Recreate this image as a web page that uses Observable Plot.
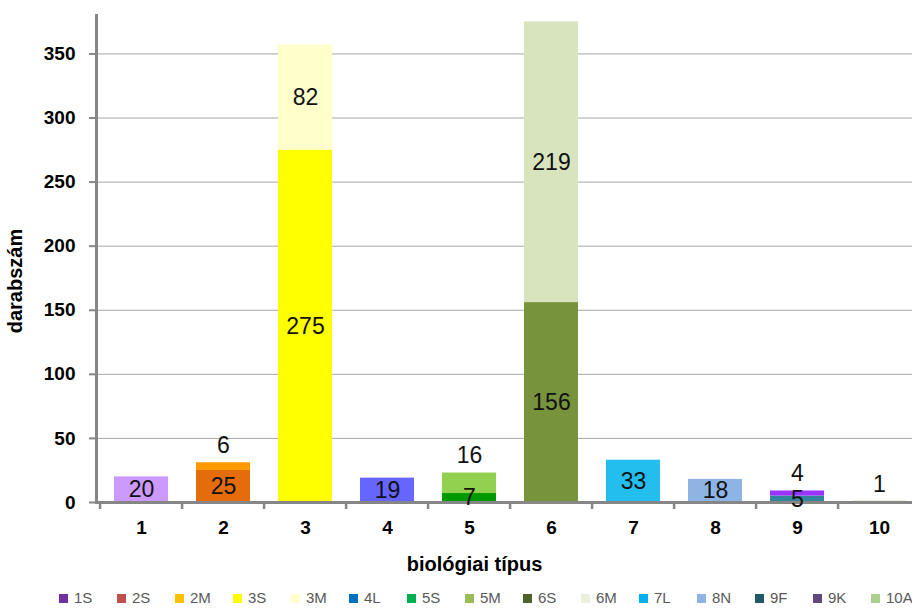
<!DOCTYPE html>
<html><head><meta charset="utf-8">
<script src="https://cdn.jsdelivr.net/npm/d3@7"></script>
<script src="https://cdn.jsdelivr.net/npm/@observablehq/plot@0.6"></script>
<style>
html,body{margin:0;padding:0;background:#fff;overflow:hidden;width:912px;height:608px;}
#chart{position:absolute;left:0;top:0;width:924px;}
#chart svg{max-width:none !important;}
#legend{position:absolute;left:59px;top:591px;display:flex;font-family:"Liberation Sans Narrow","Liberation Sans",sans-serif;font-size:15px;color:#595959;white-space:nowrap;line-height:14px;}
.item{display:flex;align-items:center;gap:6px;width:58px;}
.sw{width:9px;height:9px;display:inline-block;flex:none;}
</style></head><body>
<div id="chart"></div><div id="legend"></div>
<script>
// Data
const types = ["1","2","3","4","5","6","7","8","9","10"];
const lowerValues = [20, 25, 275, 19, 7, 156, 33, 18, 5, 1];
const upperValues = [0, 6, 82, 0, 16, 219, 0, 0, 4, 0];
const lowerColors = ["#CC99FF","#E46C0A","#FFFF00","#6666FF","#009900","#77933C","#23BEEE","#8DB4E2","#31849B","#A9D08E"];
const upperColors = [null,"#FF9900","#FFFFCC",null,"#92D050","#D7E4BD",null,null,"#9933FF",null];
const yTicks = [0, 50, 100, 150, 200, 250, 300, 350];
const legendNames = ["1S","2S","2M","3S","3M","4L","5S","5M","6S","6M","7L","8N","9F","9K","10A"];
const legendColors = ["#7030A0","#C0504D","#FFC000","#FFFF00","#FFFFCC","#0070C0","#00B050","#9BBB59","#4F6228","#EBF1DE","#00B0F0","#8DB4E2","#215967","#604A7B","#A9D08E"];
const xTitle = "biológiai típus";
const yTitle = "darabszám";

const W = 924, H = 580, ML = 96, MR = 0, MT = 15, MB = 78;
const padInner = 0.336;
const step = (W - ML - MR) / types.length;

const rows = [];
types.forEach((t, i) => {
  rows.push({type: t, part: "lower", value: lowerValues[i], base: 0, color: lowerColors[i], top: upperValues[i] <= 0});
  if (upperValues[i] > 0) rows.push({type: t, part: "upper", value: upperValues[i], base: lowerValues[i], color: upperColors[i], top: true});
});
const labels = rows.map(r => {
  const above = r.top && r.value < 17;
  return {type: r.type, text: String(r.value), y: above ? r.base + r.value : r.base + r.value / 2, above};
});

const gray = "#868686";
const font = "'Liberation Sans', Arial, sans-serif";
const plot = Plot.plot({
  width: W, height: H,
  marginLeft: ML, marginRight: MR, marginTop: MT, marginBottom: MB,
  style: {fontFamily: font, fontSize: "19px", fontWeight: "bold", color: "#000", background: "#fff", overflow: "visible", maxWidth: "none"},
  x: {type: "band", domain: types, paddingInner: padInner, paddingOuter: padInner / 2, axis: null},
  y: {domain: [0, 380], axis: null},
  color: {type: "identity"},
  marks: [
    Plot.gridY({ticks: yTicks.filter(v => v > 0), stroke: "#a6a6a6", strokeOpacity: 1, strokeWidth: 1}),
    Plot.barY(rows, {x: "type", y: "value", fill: "color"}),
    Plot.axisY({ticks: yTicks, tickSize: 7, tickPadding: 14, stroke: gray, strokeWidth: 2, tickFormat: d => d, label: null, fontSize: 19, fontWeight: "bold"}),
    Plot.axisX({tickSize: 0, tickPadding: 18, label: null, fontSize: 19, fontWeight: "bold"}),
    Plot.axisX({tickSize: 7, dx: -step / 2, tickFormat: () => "", label: null, stroke: gray, strokeWidth: 2.5}),
    Plot.ruleY([0], {stroke: gray, strokeWidth: 3}),
    Plot.frame({anchor: "left", stroke: gray, strokeWidth: 3}),
    Plot.text([xTitle], {frameAnchor: "bottom", text: d => d, dy: 68, dx: -36, lineAnchor: "bottom", fontSize: 20, fontWeight: "bold", fill: "#000"}),
    Plot.text([yTitle], {frameAnchor: "left", text: d => d, rotate: -90, dx: -89, dy: 22, textAnchor: "middle", lineAnchor: "top", fontSize: 20, fontWeight: "bold", fill: "#000"}),
    Plot.text(labels.filter(d => !d.above), {x: "type", y: "y", text: "text", fontSize: 23, fontWeight: "normal", fill: "#111"}),
    Plot.text(labels.filter(d => d.above), {x: "type", y: "y", text: "text", dy: -17, fontSize: 23, fontWeight: "normal", fill: "#111"})
  ]
});
document.getElementById("chart").appendChild(plot);

const legend = d3.select("#legend");
legendNames.forEach((n, i) => {
  const it = legend.append("div").attr("class", "item");
  it.append("span").attr("class", "sw").style("background", legendColors[i]);
  it.append("span").text(n);
});
</script>
</body></html>
